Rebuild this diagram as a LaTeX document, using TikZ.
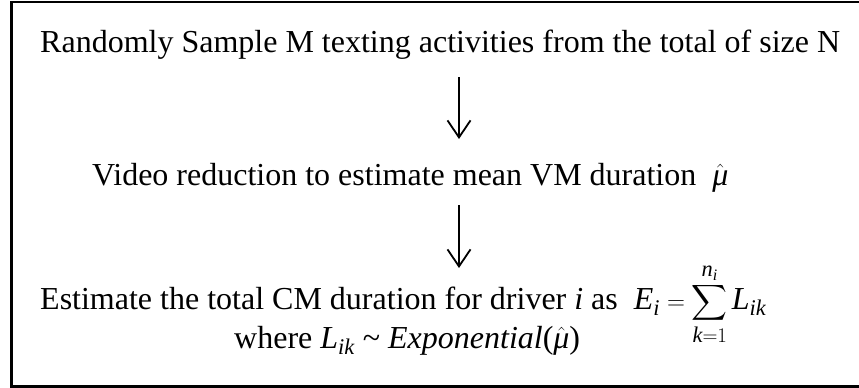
\documentclass[tikz,border=0pt]{standalone}
\usepackage{amsmath}
\usepackage{fontspec}
\setmainfont{Liberation Serif}
\usetikzlibrary{arrows.meta}

\tikzset{
  line/.style={anchor=base west, inner sep=0pt, font=\fontsize{32}{38}\selectfont},
  flow/.style={line width=1.8pt, -{Straight Barb[length=17pt,width=23pt,line width=1.8pt]}}
}
\newcommand{\mi}[1]{\textit{#1}}

\begin{document}
\begin{tikzpicture}[x=1pt, y=-1pt]
  % Parameters
  \def\arrx{459}  % x of the arrows
  \useasboundingbox (0,0) rectangle (859,388);
  \clip (0,0) rectangle (859,388);
  % Frame (right side cut off)
  \draw[line width=2.5pt] (11.5,2) rectangle (870,386.5);
  % Steps
  \node[line] (sample) at (40,52) {Randomly Sample M texting activities from the total of size N};
  \node[line] (video) at (92,185) {Video reduction to estimate mean VM duration \ $\hat{\mi{μ}}$};
  \node[line] (estimate) at (40,309) {Estimate the total CM duration for driver \mi{i} as \ $\mi{E}_{\mi{i}} = \displaystyle\sum_{\mi{k}=1}^{\mi{n}_{\mi{i}}} \mi{L}_{\mi{ik}}$};
  \node[line] (where) at (234,348) {where $\mi{L}_{\mi{ik}}$ \textasciitilde\ \mi{Exponential}($\hat{\mi{μ}}$)};
  % Arrows
  \draw[flow] ([yshift=-25pt]sample.base -| \arrx,0) -- ([yshift=46pt]video.base -| \arrx,0);
  \draw[flow] ([yshift=-20pt]video.base -| \arrx,0) -- ([yshift=41pt]estimate.base -| \arrx,0);
\end{tikzpicture}
\end{document}
